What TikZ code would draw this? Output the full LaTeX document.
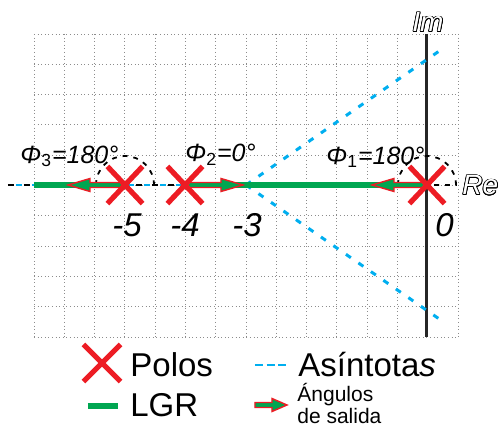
\documentclass[tikz,border=0pt]{standalone}
\usepackage{fontspec}
\setmainfont{Liberation Sans}
\usepackage{contour}
\contourlength{0.35pt}
\usetikzlibrary{shapes.misc}
\definecolor{lgr}{RGB}{0,166,81}
\definecolor{polered}{RGB}{237,28,36}
\definecolor{asym}{RGB}{0,174,239}
\begin{document}
\begin{tikzpicture}[x=0.5pt,y=-0.5pt,
  gridline/.style={draw=black!45, line width=0.4pt, dash pattern=on 0.5pt off 1.3pt},
  imaxis/.style={draw=black!85, line width=1.5pt},
  realaxis/.style={draw=black, line width=1.4pt, dash pattern=on 3pt off 5pt},
  realasym/.style={draw=asym, line width=1.4pt, dash pattern=on 3pt off 5pt, dash phase=4pt},
  lgrline/.style={draw=lgr, line width=3.2pt},
  asymline/.style={draw=asym, line width=1.5pt, dash pattern=on 3pt off 4.6pt},
  anglearc/.style={draw=black, line width=0.9pt, dash pattern=on 2.4pt off 3pt},
  polemark/.style={cross out, draw=polered, line width=2.6pt, inner sep=0pt, minimum width=15pt, minimum height=16pt},
  dirarrow/.style={fill=lgr, draw=polered, line width=0.7pt, line join=miter},
  numlbl/.style={anchor=base west, inner sep=0pt, font=\fontsize{16.5pt}{18pt}\selectfont\itshape},
  philbl/.style={anchor=base west, inner sep=0pt, font=\fontsize{12.5pt}{14pt}\selectfont\itshape},
  axlbl/.style={anchor=base west, inner sep=0pt, font=\fontsize{14pt}{16pt}\selectfont\itshape},
  leglbl/.style={anchor=base west, inner sep=0pt, font=\fontsize{16.5pt}{18pt}\selectfont},
  smalllbl/.style={anchor=base west, inner sep=0pt, font=\fontsize{10.5pt}{12pt}\selectfont}
]
\useasboundingbox (0,0) rectangle (500,428);

% grid
\foreach \i in {0,...,14} {
  \draw[gridline] ({34+30.29*\i},34) -- ({34+30.29*\i},337);
}
\foreach \j in {0,...,10} {
  \draw[gridline] (34,{34+30.3*\j}) -- (458,{34+30.3*\j});
}

% coordinates
\coordinate (p5) at (125,185);
\coordinate (p4) at (185,185);
\coordinate (p0) at (427,185);
\coordinate (sigma) at (246,185);
\coordinate (rl) at (8,185);
\coordinate (imtop) at (427,34);
\coordinate (imbot) at (427,337);
\coordinate (a1) at (445,47);
\coordinate (a2) at (445,323);
\coordinate (lgrL) at (34,185);

% imaginary axis
\draw[imaxis] (imtop) -- (imbot);

% real axis (dashed) with 180 deg asymptote
\draw[realaxis] (rl) -- (sigma);
\draw[realasym] (rl) -- (sigma);

% asymptotes
\draw[asymline] (sigma) -- (a1);
\draw[asymline] (sigma) -- (a2);

% root locus on real axis
\draw[lgrline] (lgrL) -- (p5);
\draw[lgrline] (p4) -- (p0);

% angle arcs
\draw[anglearc] (p5) ++(-29,0) arc[start angle=180, end angle=360, radius=29];
\draw[anglearc] (p0) ++(-29,0) arc[start angle=180, end angle=360, radius=29] -- (p0);

% departure arrows
\draw[dirarrow, shift={(p5)}] (0,-2.5) -- (-35,-2.5) -- (-35,-6.5) -- (-57,0) -- (-35,6.5) -- (-35,2.5) -- (0,2.5) -- cycle;
\draw[dirarrow, shift={(p4)}] (0,-2.5) -- (36,-2.5) -- (36,-6.5) -- (58,0) -- (36,6.5) -- (36,2.5) -- (0,2.5) -- cycle;
\draw[dirarrow, shift={(p0)}] (0,-2.5) -- (-33,-2.5) -- (-33,-6.5) -- (-55,0) -- (-33,6.5) -- (-33,2.5) -- (0,2.5) -- cycle;

% poles
\node[polemark] (pole5) at (p5) {};
\node[polemark] (pole4) at (p4) {};
\node[polemark] (pole0) at (p0) {};

% labels
\node[philbl] (phi3) at (20,163) {Φ\textsubscript{\upshape 3}=180°};
\node[philbl] (phi2) at (185,162) {Φ\textsubscript{\upshape 2}=0°};
\node[philbl] (phi1) at (326,164) {Φ\textsubscript{\upshape 1}=180°};
\node[numlbl] (n5) at (112,237) {-5};
\node[numlbl] (n4) at (170,237) {-4};
\node[numlbl] (n3) at (232,237) {-3};
\node[numlbl] (n0) at (435,237) {0};
\node[axlbl] (re) at (462,195) {\contour{black}{\textcolor{white}{Re}}};
\node[axlbl] (im) at (412,32) {\contour{black}{\textcolor{white}{Im}}};

% legend
\node[polemark, minimum width=16pt, minimum height=16pt] (lgpole) at (102,363) {};
\node[leglbl] (lgpolos) at (130,377) {Polos};
\coordinate (lgaA) at (255,365);
\coordinate (lgaB) at (287,365);
\draw[draw=asym, line width=1.2pt, dash pattern=on 4pt off 1.8pt] (lgaA) -- (lgaB);
\node[leglbl] (lgasym) at (298,377) {Asíntota\textit{s}};
\coordinate (lglA) at (88,406);
\coordinate (lglB) at (118,406);
\draw[lgrline] (lglA) -- (lglB);
\node[leglbl] (lglgr) at (130,417) {LGR};
\draw[dirarrow, shift={(255,405)}] (0,-2.5) -- (17,-2.5) -- (17,-6.5) -- (32,0) -- (17,6.5) -- (17,2.5) -- (0,2.5) -- cycle;
\node[smalllbl] (lgang1) at (297,402) {Ángulos};
\node[smalllbl] (lgang2) at (297,424) {de salida};
\end{tikzpicture}
\end{document}
